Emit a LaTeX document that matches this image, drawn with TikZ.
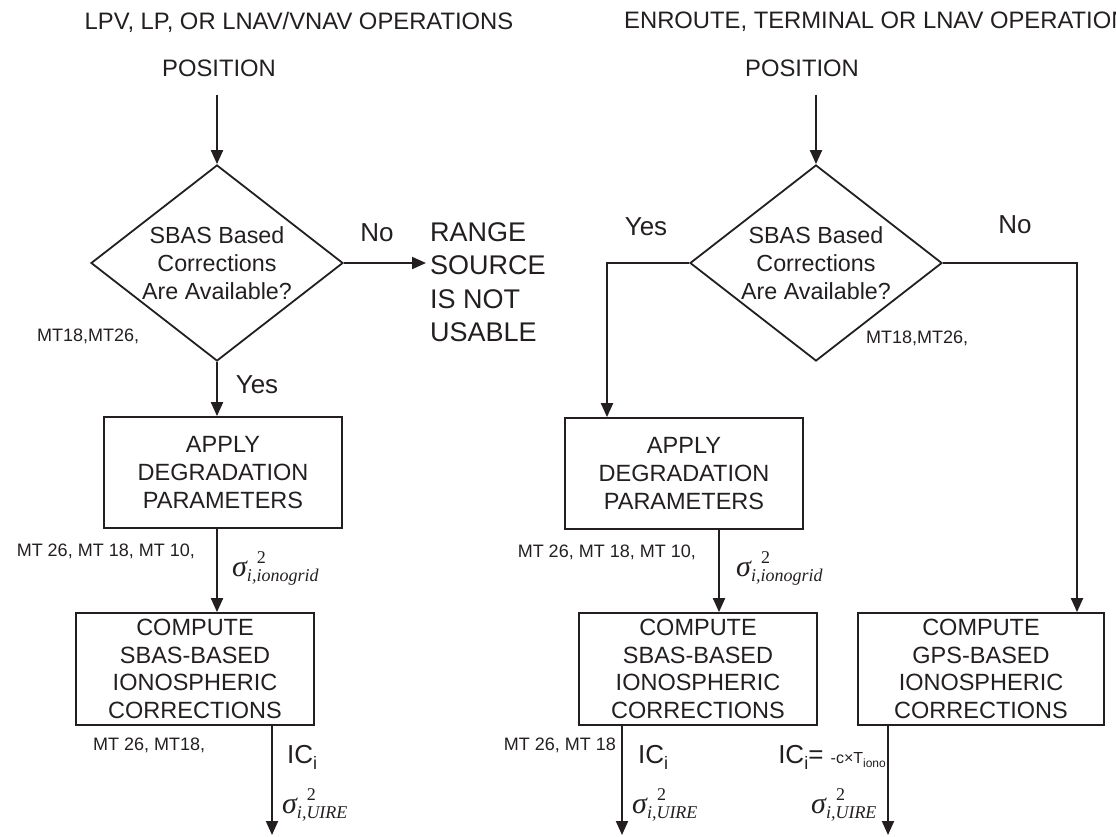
\documentclass[tikz,border=0pt]{standalone}
\usepackage{fontspec}
\setmainfont{Liberation Sans}
\newfontfamily\tnr{Liberation Serif}
\usetikzlibrary{shapes.geometric,arrows.meta}
\definecolor{ink}{RGB}{35,31,32}
\newcommand{\fs}[2]{\fontsize{#1}{#2}\selectfont}
\newcommand{\siglab}[1]{{\tnr\itshape\fs{30}{30}σ}\makebox[0pt][l]{\hspace{10pt}\raisebox{13pt}{\tnr\fs{18}{18}2}}\raisebox{-5pt}{\tnr\itshape\fs{18}{18}#1}}
\newcommand{\icsub}{IC\raisebox{-6pt}{\fs{18}{18}i}}
\tikzset{
  txt/.style={font=\fs{23.8}{27.7}, text=ink, inner sep=0pt},
  box/.style={draw=ink, line width=1.8pt, rectangle, align=center, inner sep=0pt, font=\fs{23.5}{27.7}, text=ink},
  dia/.style={draw=ink, line width=1.8pt, diamond, aspect=1.29, inner sep=0pt, minimum width=252pt, minimum height=196pt, align=center, font=\fs{23.3}{28}, text=ink},
  conn/.style={draw=ink, line width=2pt},
  arr/.style={conn, -{Triangle[length=14pt,width=12pt]}},
  lbl/.style={font=\fs{26}{26}, text=ink, inner sep=0pt},
  small/.style={font=\fs{18}{18}, text=ink, inner sep=0pt},
  rangetxt/.style={font=\fs{27}{33.5}, text=ink, inner sep=0pt, align=left},
}
\begin{document}
\begin{tikzpicture}[x=1pt,y=-1pt]
\useasboundingbox (0,0) rectangle (1116,836);
\clip (0,0) rectangle (1116,836);
% ---------------- left column ----------------
\node[txt] (titleL) at (299,22) {LPV, LP, OR LNAV/VNAV OPERATIONS};
\node[txt] (posL) at (219,68) {POSITION};
\node[dia] (dL) at (217,263) {SBAS Based\\Corrections\\Are Available?};
\node[rangetxt, anchor=west] (rng) at (430,282) {RANGE\\SOURCE\\IS NOT\\USABLE};
\node[lbl] (noL) at (377,233) {No};
\node[small, anchor=west] (mtL1) at (37,336) {MT18,MT26,};
\node[lbl] (yesL) at (257,385) {Yes};
\node[box, minimum width=238pt, minimum height=111pt] (apL) at (223,472.5) {APPLY\\DEGRADATION\\PARAMETERS};
\node[small, anchor=east] (mtL2) at (195,551) {MT 26, MT 18, MT 10,};
\node[anchor=west, inner sep=0pt, text=ink] (sgL1) at (232,568) {\siglab{i,ionogrid}};
\node[box, minimum width=238pt, minimum height=112pt] (cmpL) at (195,669) {COMPUTE\\SBAS-BASED\\IONOSPHERIC\\CORRECTIONS};
\node[small, anchor=west] (mtL3) at (93,745) {MT 26, MT18,};
\node[lbl, anchor=west] (icL) at (287,757) {\icsub};
\node[anchor=west, inner sep=0pt, text=ink] (sgL2) at (282,805) {\siglab{i,UIRE}};
\coordinate (endL) at (272,835);

\draw[arr] ([yshift=-18pt]posL.south -| dL.north) -- (dL.north);
\draw[arr] (dL.east) -- ([xshift=-4pt]rng.west |- dL.east);
\draw[arr] (dL.south) -- (dL.south |- apL.north);
\draw[arr] (dL.south |- apL.south) -- (dL.south |- cmpL.north);
\draw[arr] (endL |- cmpL.south) -- (endL);

% ---------------- right column ----------------
\node[txt, anchor=west] (titleR) at (624,22) {ENROUTE, TERMINAL OR LNAV OPERATIONS};
\node[txt] (posR) at (802,68) {POSITION};
\node[dia] (dR) at (816,263) {SBAS Based\\Corrections\\Are Available?};
\node[lbl] (yesR) at (646,227) {Yes};
\node[lbl] (noR) at (1015,225) {No};
\node[small, anchor=west] (mtR1) at (866,338) {MT18,MT26,};
\coordinate (cYes) at (607,263);
\coordinate (cNo) at (1077,263);
\node[box, minimum width=238pt, minimum height=111pt] (apR) at (684,473.5) {APPLY\\DEGRADATION\\PARAMETERS};
\node[small, anchor=east] (mtR2) at (696,552) {MT 26, MT 18, MT 10,};
\node[anchor=west, inner sep=0pt, text=ink] (sgR1) at (736,568) {\siglab{i,ionogrid}};
\coordinate (cMid) at (719,500);
\node[box, minimum width=238pt, minimum height=112pt] (cmpR) at (698,669) {COMPUTE\\SBAS-BASED\\IONOSPHERIC\\CORRECTIONS};
\node[box, minimum width=246pt, minimum height=112pt] (gps) at (981,669) {COMPUTE\\GPS-BASED\\IONOSPHERIC\\CORRECTIONS};
\node[small, anchor=east] (mtR3) at (616,745) {MT 26, MT 18};
\node[lbl, anchor=west] (icR) at (638,757) {\icsub};
\node[anchor=west, inner sep=0pt, text=ink] (sgR2) at (632,805) {\siglab{i,UIRE}};
\node[lbl, anchor=east] (icG) at (886,757) {\icsub= {\fs{16}{16}-c×T\raisebox{-4pt}{\fs{12}{12}iono}}};
\node[anchor=west, inner sep=0pt, text=ink] (sgG) at (811,805) {\siglab{i,UIRE}};
\coordinate (endR) at (622,835);
\coordinate (endG) at (888,835);

\draw[arr] ([yshift=-18pt]posR.south -| dR.north) -- (dR.north);
\draw[arr] (dR.west) -- (cYes) -- (cYes |- apR.north);
\draw[arr] (dR.east) -- (cNo) -- (cNo |- gps.north);
\draw[arr] (cMid |- apR.south) -- (cMid |- cmpR.north);
\draw[arr] (endR |- cmpR.south) -- (endR);
\draw[arr] (endG |- gps.south) -- (endG);
\end{tikzpicture}
\end{document}
